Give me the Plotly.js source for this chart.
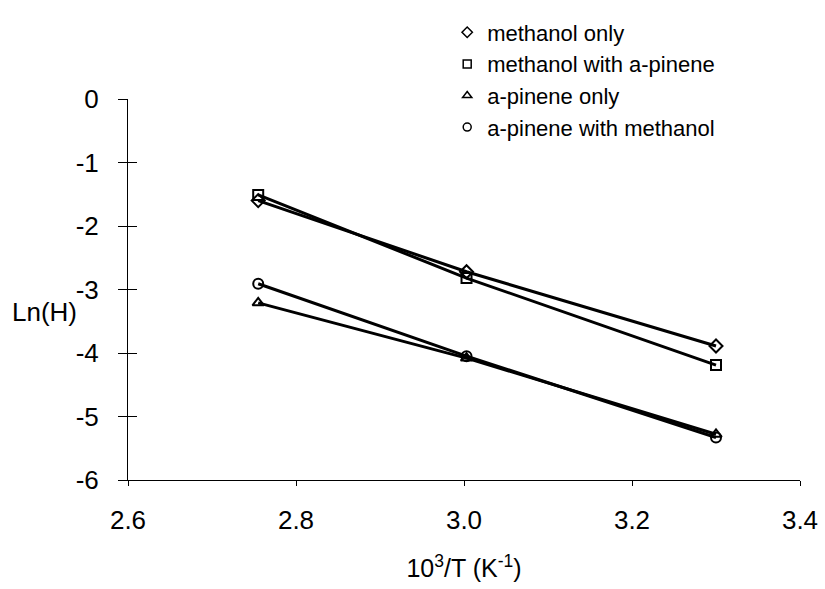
<!DOCTYPE html>
<html>
<head>
<meta charset="utf-8">
<script src="https://cdn.plot.ly/plotly-3.0.1.min.js"></script>
<style>html,body{margin:0;padding:0;background:#fff;}#chart{width:825px;height:589px;}</style>
</head>
<body>
<div id="chart"></div>
<script>
const xValues = [2.755, 3.003, 3.300];
const methanolOnly = [-1.60, -2.72, -3.89];
const methanolWithPinene = [-1.51, -2.82, -4.19];
const pineneOnly = [-3.21, -4.08, -5.28];
const pineneWithMethanol = [-2.91, -4.05, -5.33];
const seriesNames = ["methanol only", "methanol with a-pinene", "a-pinene only", "a-pinene with methanol"];
const seriesSymbols = ["diamond-open", "square-open", "triangle-up-open", "circle-open"];
const xTicks = [2.6, 2.8, 3.0, 3.2, 3.4];
const xTickText = ["2.6", "2.8", "3.0", "3.2", "3.4"];
const yTicks = [0, -1, -2, -3, -4, -5, -6];

const seriesData = [methanolOnly, methanolWithPinene, pineneOnly, pineneWithMethanol];
const traces = [];
seriesData.forEach((ys, i) => {
  traces.push({
    x: xValues, y: ys, mode: 'lines+markers', showlegend: false,
    line: {color: '#000', width: 3},
    marker: {symbol: seriesSymbols[i], size: 10, color: '#000', line: {color: '#000', width: 2}}
  });
});
seriesData.forEach((ys, i) => {
  traces.push({
    x: [null], y: [null], mode: 'markers', name: seriesNames[i], showlegend: true,
    marker: {symbol: seriesSymbols[i], size: 8, color: '#000', line: {color: '#000', width: 1.5}}
  });
});
traces.push({x: [null], y: [null], yaxis: 'y2', showlegend: false, hoverinfo: 'skip', mode: 'markers'});

const font = {family: 'Liberation Sans, Arial, sans-serif', color: '#000'};
const layout = {
  width: 825, height: 589,
  margin: {l: 128, r: 25, t: 89, b: 109},
  paper_bgcolor: '#fff', plot_bgcolor: '#fff',
  font: Object.assign({size: 22}, font),
  showlegend: true,
  legend: {x: 0.475, y: 1.2297, xanchor: 'left', yanchor: 'top', font: Object.assign({size: 22}, font),
           bgcolor: 'rgba(0,0,0,0)', itemwidth: 30},
  xaxis: {
    range: [2.6, 3.4], tickvals: xTicks, ticktext: xTickText,
    showgrid: false, zeroline: false, showline: true, linecolor: '#000', linewidth: 1,
    ticks: 'outside', ticklen: 5, tickcolor: '#000',
    tickfont: Object.assign({size: 26}, font), ticklabelstandoff: 12,
    title: {text: '10<sup>3</sup>/T (K<sup>-1</sup>)', font: Object.assign({size: 25}, font), standoff: 25}
  },
  yaxis: {
    range: [-6, 0], tickvals: yTicks, ticktext: yTicks.map(String),
    showgrid: false, zeroline: false, showline: true, linecolor: '#000', linewidth: 1,
    ticks: 'outside', ticklen: 9, tickcolor: '#000',
    tickfont: Object.assign({size: 26}, font), ticklabelstandoff: 14
  },
  yaxis2: {
    range: [-6, 0], overlaying: 'y', side: 'left', tickvals: yTicks, showticklabels: false,
    showgrid: false, zeroline: false, showline: false,
    ticks: 'inside', ticklen: 9, tickcolor: '#000'
  },
  annotations: [{
    text: 'Ln(H)', xref: 'paper', yref: 'y', x: -0.124, y: -3.35, xanchor: 'center', yanchor: 'middle',
    showarrow: false, font: Object.assign({size: 26}, font)
  }]
};
Plotly.newPlot('chart', traces, layout, {displayModeBar: false, staticPlot: true});
</script>
</body>
</html>
